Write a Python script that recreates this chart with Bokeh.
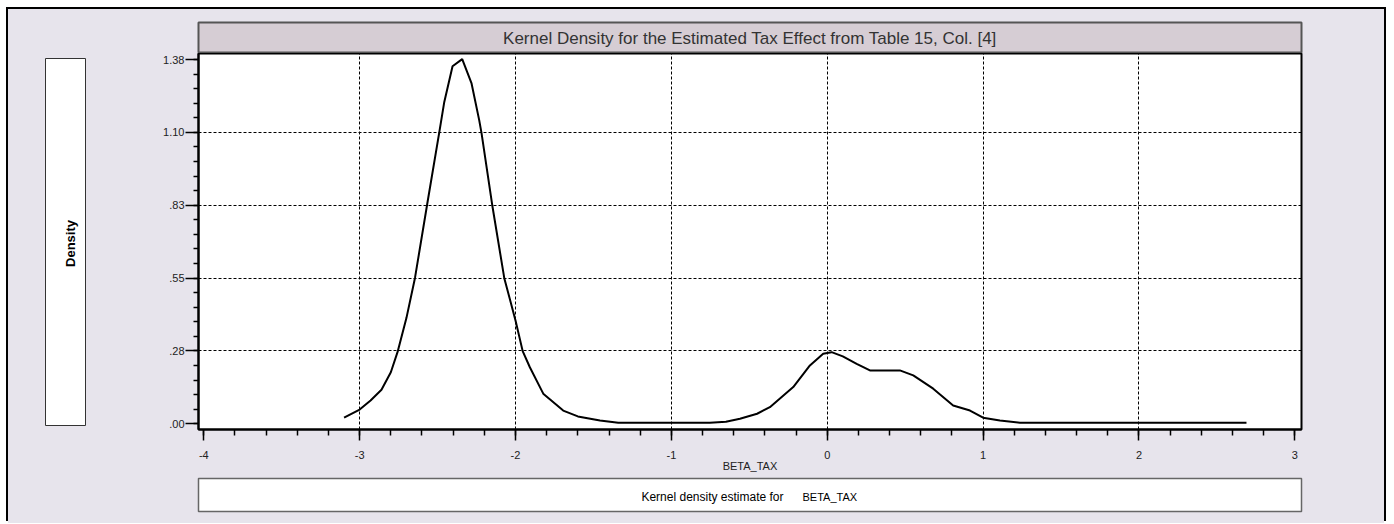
from bokeh.plotting import figure
from bokeh.models import Range1d, FixedTicker, Label
from bokeh.layouts import row, column
from bokeh.embed import file_html
from bokeh.resources import INLINE

# ---- data ----
beta_tax = [-3.10, -3.00, -2.93, -2.86, -2.80, -2.755, -2.70, -2.645, -2.567, -2.490,
            -2.457, -2.404, -2.342, -2.282, -2.233, -2.218, -2.150, -2.072, -2.000,
            -1.954, -1.908, -1.822, -1.694, -1.600, -1.458, -1.341, -0.753, -0.650,
            -0.560, -0.450, -0.368, -0.218, -0.111, -0.026, 0.028, 0.100, 0.189,
            0.274, 0.466, 0.552, 0.680, 0.808, 0.916, 1.000, 1.108, 1.236, 2.690]
density = [0.023, 0.054, 0.088, 0.129, 0.195, 0.275, 0.400, 0.552, 0.830, 1.100,
           1.218, 1.353, 1.380, 1.288, 1.149, 1.100, 0.830, 0.551, 0.391,
           0.275, 0.214, 0.114, 0.050, 0.028, 0.0125, 0.004, 0.004, 0.008,
           0.019, 0.038, 0.063, 0.139, 0.221, 0.265, 0.271, 0.255, 0.227,
           0.202, 0.202, 0.183, 0.133, 0.069, 0.050, 0.023, 0.0125, 0.004, 0.004]

x_ticks = [-4, -3, -2, -1, 0, 1, 2, 3]
x_tick_labels = ["-4", "-3", "-2", "-1", "0", "1", "2", "3"]
y_ticks = [0.0, 0.2757, 0.5514, 0.8271, 1.1028, 1.3786]
y_tick_labels = [".00", ".28", ".55", ".83", "1.10", "1.38"]

title_text = "Kernel Density for the Estimated Tax Effect from Table 15, Col. [4]"
y_title = "Density"
x_title = "BETA_TAX"
legend_text = "Kernel density estimate for"

FONT = "Liberation Sans"
BG = "#e7e4ec"
HEADER = "#d6cdd4"

# layout sizes (px)
LW = 150            # left column width
RW = 1226           # right column width
FRAME_W = 1103
RB = RW - 40 - FRAME_W   # right border of right-column figures
TOTAL_H = 514

def deco_fig(w, h, bl, br, bt, bb, xr, yr):
    f = figure(width=w, height=h, output_backend="svg", toolbar_location=None,
               x_axis_location=None, y_axis_location=None,
               x_range=Range1d(0, xr), y_range=Range1d(0, yr),
               min_border_left=bl, min_border_right=br,
               min_border_top=bt, min_border_bottom=bb)
    f.border_fill_color = BG
    f.grid.visible = False
    return f

# ---- left: "Density" box ----
L = deco_fig(LW, TOTAL_H, 37, LW - 77, 49, TOTAL_H - 416, 40, 367)
L.background_fill_color = "white"
L.outline_line_color = "#333333"
L.outline_line_width = 1
L.add_layout(Label(x=25, y=182, text=y_title, text_font=FONT, text_font_size="13px",
                   text_font_style="bold", text_align="center", text_baseline="middle",
                   angle=1.5708, text_color="black"))

# ---- header bar ----
H = deco_fig(RW, 44, 40, RB, 13, 0, FRAME_W, 31)
H.background_fill_color = HEADER
H.outline_line_color = "#555555"
H.outline_line_width = 2
H.add_layout(Label(x=FRAME_W / 2, y=15.5, text=title_text, text_font=FONT,
                   text_font_size="17px", text_align="center", text_baseline="middle",
                   text_color="#333333"))

# ---- main plot ----
X0, X1 = -4.034, 3.043
Y0, Y1 = -0.0216, 1.4013
M = figure(width=RW, height=423, output_backend="svg", toolbar_location=None,
           x_range=Range1d(X0, X1), y_range=Range1d(Y0, Y1),
           min_border_left=40, min_border_right=RB, min_border_top=0,
           min_border_bottom=47)
M.background_fill_color = "white"
M.border_fill_color = BG
M.outline_line_color = "black"
M.outline_line_width = 2

M.line(beta_tax, density, line_color="black", line_width=2)

xa = M.xaxis[0]
xa.ticker = FixedTicker(ticks=x_ticks,
                        minor_ticks=[x_ticks[0] + i * 0.2 for i in range(36)])
xa.major_label_overrides = {v: l for v, l in zip(x_ticks, x_tick_labels)}
xa.axis_line_color = "black"
xa.axis_line_width = 2
xa.major_tick_in = 0
xa.major_tick_out = 11
xa.minor_tick_in = 0
xa.minor_tick_out = 6
xa.major_tick_line_color = "black"
xa.minor_tick_line_color = "black"
xa.major_tick_line_width = 1.5
xa.minor_tick_line_width = 1.5
xa.major_label_text_font = FONT
xa.major_label_text_font_size = "11px"
xa.major_label_text_color = "#222222"
xa.major_label_standoff = 10
xa.axis_label = x_title
xa.axis_label_text_font = FONT
xa.axis_label_text_font_style = "normal"
xa.axis_label_text_font_size = "11px"
xa.axis_label_text_color = "#222222"
xa.axis_label_standoff = -2

ya = M.yaxis[0]
step = y_ticks[1] / 5
ya.ticker = FixedTicker(ticks=y_ticks, minor_ticks=[i * step for i in range(26)])
ya.major_label_overrides = {v: l for v, l in zip(y_ticks, y_tick_labels)}
ya.axis_line_color = "black"
ya.axis_line_width = 2
ya.major_tick_in = 0
ya.major_tick_out = 13
ya.minor_tick_in = 0
ya.minor_tick_out = 5
ya.major_tick_line_color = "black"
ya.minor_tick_line_color = "black"
ya.major_tick_line_width = 1.5
ya.minor_tick_line_width = 1.5
ya.major_label_text_font = FONT
ya.major_label_text_font_size = "11px"
ya.major_label_text_color = "#222222"
ya.major_label_standoff = 1

M.xgrid.ticker = FixedTicker(ticks=x_ticks[1:-1])
M.ygrid.ticker = FixedTicker(ticks=y_ticks[1:-1])
for g in (M.xgrid[0], M.ygrid[0]):
    g.grid_line_color = "black"
    g.grid_line_dash = "3 2"
    g.grid_line_width = 1

# ---- legend box ----
B = deco_fig(RW, TOTAL_H - 44 - 423, 40, RB, 2, TOTAL_H - 44 - 423 - 35, FRAME_W, 33)
B.background_fill_color = "white"
B.outline_line_color = "#666666"
B.outline_line_width = 1.5
B.add_layout(Label(x=585, y=14.5, text=legend_text, text_font=FONT,
                   text_font_size="12px", text_align="right", text_baseline="middle",
                   text_color="black"))
B.add_layout(Label(x=604, y=14.5, text=x_title, text_font=FONT,
                   text_font_size="11px", text_align="left", text_baseline="middle",
                   text_color="black"))

col = column(H, M, B, spacing=0, styles={"background-color": BG})
root = row(L, col, spacing=0,
           styles={"margin-left": "8px", "margin-top": "9px",
                   "background-color": BG,
                   "box-shadow": "-2px -2px 0 0 #000000, 2px -2px 0 0 #000000"})

open("out.html", "w").write(file_html(root, INLINE))
